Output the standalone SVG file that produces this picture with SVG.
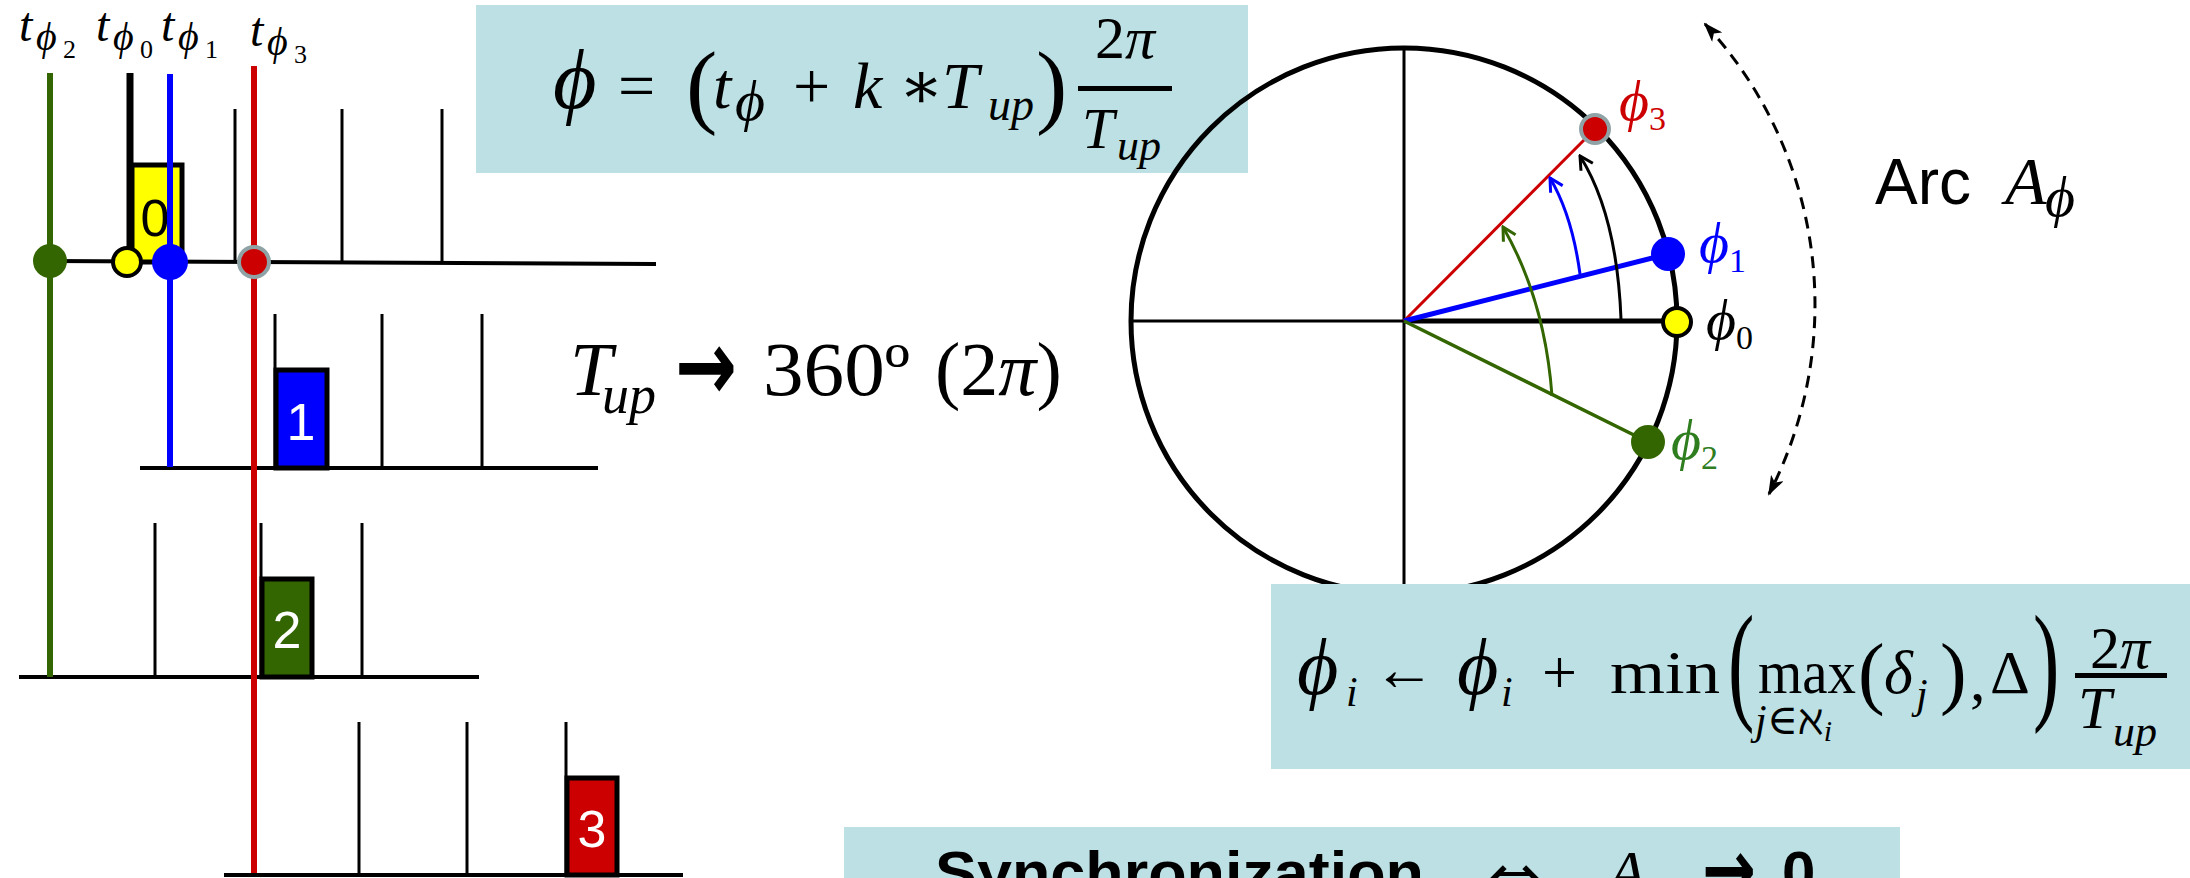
<svg xmlns="http://www.w3.org/2000/svg" width="2190" height="878" viewBox="0 0 2190 878">
<style>
.m{font-family:"Liberation Serif","DejaVu Serif",serif;fill:#000}
.i{font-style:italic}
.ss{font-family:"Liberation Sans",Arial,sans-serif}
.dv{font-family:"DejaVu Sans",sans-serif}
.bl{stroke:#000;stroke-width:4;fill:none}
.tk{stroke:#000;stroke-width:3}
.bx{stroke:#000;stroke-width:5}
.fb{fill:#bce0e3}
.num{font-family:"Liberation Sans",Arial,sans-serif;font-size:52px;text-anchor:middle;fill:#fff}
.vl{stroke-width:6;fill:none}
</style>
<defs>
<marker id="mk" viewBox="0 0 18 18" refX="16" refY="9" markerWidth="18" markerHeight="18" markerUnits="userSpaceOnUse" orient="auto"><path d="M3,2 L16,9 L3,16" fill="none" stroke="#000" stroke-width="3"/></marker>
<marker id="mb" viewBox="0 0 18 18" refX="16" refY="9" markerWidth="18" markerHeight="18" markerUnits="userSpaceOnUse" orient="auto"><path d="M3,2 L16,9 L3,16" fill="none" stroke="#0000ff" stroke-width="3"/></marker>
<marker id="mg" viewBox="0 0 18 18" refX="16" refY="9" markerWidth="18" markerHeight="18" markerUnits="userSpaceOnUse" orient="auto"><path d="M3,2 L16,9 L3,16" fill="none" stroke="#336600" stroke-width="3"/></marker>
<marker id="md" viewBox="0 0 20 14" refX="18" refY="7" markerWidth="20" markerHeight="14" markerUnits="userSpaceOnUse" orient="auto-start-reverse"><path d="M0,0 L20,7 L0,14 L5,7 Z" fill="#000"/></marker>
</defs>
<rect width="2190" height="878" fill="#fff"/>

<g id="labels-t" class="m">
<text x="19" y="41" font-size="48" class="i">t</text><text x="36" y="50" font-size="40" class="i">ϕ</text><text x="63" y="58" font-size="26">2</text>
<text x="96" y="41" font-size="48" class="i">t</text><text x="113" y="50" font-size="40" class="i">ϕ</text><text x="140" y="58" font-size="26">0</text>
<text x="161" y="41" font-size="48" class="i">t</text><text x="178" y="50" font-size="40" class="i">ϕ</text><text x="205" y="58" font-size="26">1</text>
<text x="250" y="46" font-size="48" class="i">t</text><text x="267" y="55" font-size="40" class="i">ϕ</text><text x="294" y="63" font-size="26">3</text>
</g>

<g id="node0">
<line x1="50" y1="261" x2="656" y2="264" class="bl"/>
<line x1="235" y1="109" x2="235" y2="262" class="tk"/>
<line x1="342" y1="109" x2="342" y2="263" class="tk"/>
<line x1="442" y1="109" x2="442" y2="263" class="tk"/>
<rect x="132" y="165" width="50" height="97" fill="#ffff00" class="bx"/>
<line x1="130" y1="73" x2="130" y2="262" stroke="#000" stroke-width="7"/>
<text x="155" y="236" class="num" style="fill:#000">0</text>
</g>

<g id="node1">
<line x1="140" y1="468" x2="598" y2="468" class="bl"/>
<line x1="275" y1="314" x2="275" y2="468" class="tk"/>
<line x1="382" y1="314" x2="382" y2="468" class="tk"/>
<line x1="482" y1="314" x2="482" y2="468" class="tk"/>
<rect x="276" y="370" width="51" height="98" fill="#0000ff" class="bx"/>
<text x="301" y="440" class="num">1</text>
</g>

<g id="node2">
<line x1="19" y1="677" x2="479" y2="677" class="bl"/>
<line x1="155" y1="523" x2="155" y2="677" class="tk"/>
<line x1="261" y1="523" x2="261" y2="677" class="tk"/>
<line x1="362" y1="523" x2="362" y2="677" class="tk"/>
<rect x="262" y="579" width="50" height="98" fill="#336600" class="bx"/>
<text x="287" y="648" class="num">2</text>
</g>

<g id="node3">
<line x1="224" y1="875" x2="683" y2="875" class="bl"/>
<line x1="359" y1="722" x2="359" y2="875" class="tk"/>
<line x1="467" y1="722" x2="467" y2="875" class="tk"/>
<line x1="566" y1="722" x2="566" y2="875" class="tk"/>
<rect x="567" y="778" width="50" height="97" fill="#cc0000" class="bx"/>
<text x="592" y="847" class="num">3</text>
</g>

<g id="timeline-markers">
<line x1="50" y1="73" x2="50" y2="677" stroke="#336600" class="vl"/>
<line x1="170" y1="74" x2="170" y2="467" stroke="#0000ff" class="vl"/>
<line x1="254" y1="66" x2="254" y2="873" stroke="#cc0000" class="vl"/>
<circle cx="50" cy="261" r="17" fill="#336600"/>
<circle cx="127" cy="262" r="14" fill="#ffff00" stroke="#000" stroke-width="4"/>
<circle cx="170" cy="262" r="18" fill="#0000ff"/>
<circle cx="254" cy="262" r="15" fill="#cc0000" stroke="#8fa3a6" stroke-width="4"/>
</g>

<g id="formula1">
<rect x="476" y="5" width="772" height="168" class="fb"/>
<g class="m">
<text x="553" y="108" font-size="84" class="i">ϕ</text>
<text x="618" y="108" font-size="66">=</text>
<text x="686" y="116" font-size="94">(</text>
<text x="713" y="108" font-size="66" class="i">t</text>
<text x="735" y="120" font-size="58" class="i">ϕ</text>
<text x="793" y="108" font-size="66">+</text>
<text x="853" y="108" font-size="66" class="i">k</text>
<text x="899" y="108" font-size="66">∗</text>
<text x="942" y="108" font-size="66" class="i">T</text>
<text x="988" y="120" font-size="46" class="i">up</text>
<text x="1036" y="116" font-size="94">)</text>
<text x="1125" y="58" font-size="60" text-anchor="middle">2<tspan class="i">π</tspan></text>
<rect x="1078" y="86" width="94" height="5" fill="#000"/>
<text x="1082" y="148" font-size="58" class="i">T</text>
<text x="1117" y="160" font-size="44" class="i">up</text>
</g>
</g>

<g id="period" class="m">
<text x="570" y="395" font-size="76" class="i">T</text>
<text x="602" y="413" font-size="54" class="i">up</text>
<text class="dv" x="675" y="400" font-size="100" font-weight="bold" textLength="62" lengthAdjust="spacingAndGlyphs">→</text>
<text x="763" y="395" font-size="76" textLength="147" lengthAdjust="spacingAndGlyphs">360º</text>
<text x="935" y="395" font-size="76">(2<tspan class="i">π</tspan>)</text>
</g>

<g id="circle">
<circle cx="1404" cy="321" r="273" fill="none" stroke="#000" stroke-width="5"/>
<line x1="1404" y1="47" x2="1404" y2="593" stroke="#000" stroke-width="3"/>
<line x1="1131" y1="321" x2="1404" y2="321" stroke="#000" stroke-width="3"/>
<line x1="1404" y1="321" x2="1677" y2="321" stroke="#000" stroke-width="5"/>
</g>

<g id="connectors">
<line x1="1404" y1="321" x2="1595" y2="129" stroke="#cc0000" stroke-width="3"/>
<line x1="1404" y1="321" x2="1668" y2="254" stroke="#0000ff" stroke-width="5"/>
<line x1="1404" y1="321" x2="1648" y2="442" stroke="#336600" stroke-width="3.5"/>
<path d="M1621,319 Q1617,215 1580,156" fill="none" stroke="#000" stroke-width="3" marker-end="url(#mk)"/>
<path d="M1580,274 Q1572,215 1550,178" fill="none" stroke="#0000ff" stroke-width="3" marker-end="url(#mb)"/>
<path d="M1552,396 Q1545,300 1503,227" fill="none" stroke="#336600" stroke-width="3" marker-end="url(#mg)"/>
<path d="M1705,24 A413,413 0 0 1 1769,494" fill="none" stroke="#000" stroke-width="3" stroke-dasharray="12 8" marker-start="url(#md)" marker-end="url(#md)"/>
</g>

<g id="phi0"><circle cx="1677" cy="322" r="14" fill="#ffff00" stroke="#000" stroke-width="4"/>
<text class="m" x="1706" y="339" font-size="58"><tspan class="i">ϕ</tspan><tspan font-size="34" dy="10">0</tspan></text></g>
<g id="phi1"><circle cx="1668" cy="254" r="17" fill="#0000ff"/>
<text class="m" x="1699" y="262" font-size="58" style="fill:#0000ff"><tspan class="i">ϕ</tspan><tspan font-size="34" dy="10">1</tspan></text></g>
<g id="phi2"><circle cx="1648" cy="442" r="17" fill="#336600"/>
<text class="m" x="1671" y="459" font-size="58" style="fill:#2e7d1e"><tspan class="i">ϕ</tspan><tspan font-size="34" dy="10">2</tspan></text></g>
<g id="phi3"><circle cx="1595" cy="129" r="14" fill="#cc0000" stroke="#8fa3a6" stroke-width="4"/>
<text class="m" x="1619" y="120" font-size="58" style="fill:#cc0000"><tspan class="i">ϕ</tspan><tspan font-size="34" dy="10">3</tspan></text></g>

<g id="arc-label">
<text class="ss" x="1875" y="204" font-size="64">Arc</text>
<text class="m i" x="2005" y="204" font-size="68">A</text>
<text class="m i" x="2045" y="216" font-size="58">ϕ</text>
</g>

<g id="formula2">
<rect x="1271" y="584" width="919" height="185" class="fb"/>
<g class="m">
<text x="1297" y="694" font-size="80" class="i">ϕ</text>
<text x="1346" y="706" font-size="42" class="i">i</text>
<text x="1373" y="690" font-size="62" textLength="62" lengthAdjust="spacingAndGlyphs">←</text>
<text x="1457" y="694" font-size="80" class="i">ϕ</text>
<text x="1501" y="706" font-size="42" class="i">i</text>
<text x="1542" y="693" font-size="62">+</text>
<text x="1610" y="693" font-size="62" textLength="110" lengthAdjust="spacingAndGlyphs">min</text>
<text transform="translate(1728,706) scale(0.6,1)" font-size="132">(</text>
<text x="1758" y="693" font-size="62" textLength="98" lengthAdjust="spacingAndGlyphs">max</text>
<text x="1755" y="734" font-size="42"><tspan class="i">j</tspan>∈ℵ<tspan class="i" font-size="30" dy="7">i</tspan></text>
<text x="1858" y="699" font-size="80">(</text>
<text x="1884" y="693" font-size="62" class="i">δ</text>
<text x="1916" y="708" font-size="42" class="i">j</text>
<text x="1940" y="699" font-size="80">)</text>
<text x="1970" y="700" font-size="62">,</text>
<text x="1990" y="693" font-size="62">Δ</text>
<text transform="translate(2033,706) scale(0.6,1)" font-size="132">)</text>
<text x="2120" y="668" font-size="60" text-anchor="middle">2<tspan class="i">π</tspan></text>
<rect x="2075" y="673" width="92" height="5" fill="#000"/>
<text x="2078" y="728" font-size="60" class="i">T</text>
<text x="2113" y="746" font-size="44" class="i">up</text>
</g>
</g>

<g id="sync">
<rect x="844" y="827" width="1056" height="60" class="fb"/>
<text class="ss" x="935" y="893" font-size="60" font-weight="bold" textLength="489" lengthAdjust="spacingAndGlyphs">Synchronization</text>
<text class="dv" x="1487" y="900" font-size="66" textLength="55" lengthAdjust="spacingAndGlyphs">⇔</text>
<text class="m i" x="1608" y="893" font-size="62">A</text>
<text class="dv" x="1702" y="898" font-size="84" font-weight="bold" textLength="54" lengthAdjust="spacingAndGlyphs">→</text>
<text class="ss" x="1782" y="893" font-size="60" font-weight="bold">0</text>
</g>
</svg>
